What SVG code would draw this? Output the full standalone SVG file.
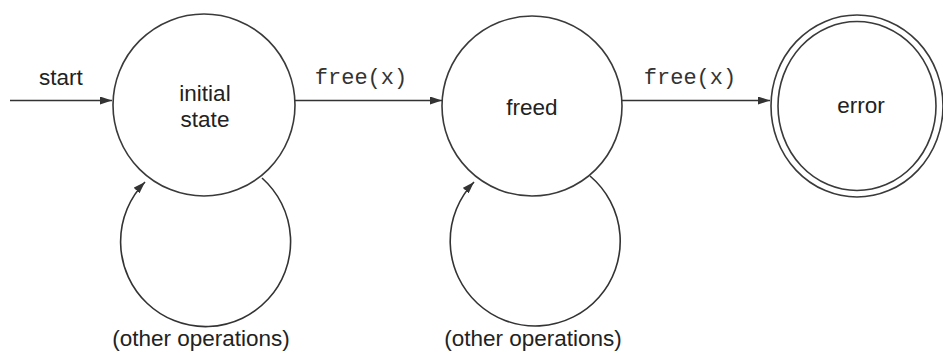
<svg xmlns="http://www.w3.org/2000/svg" width="943" height="356" viewBox="0 0 943 356">
  <style>
    .state { fill: #fff; stroke: #3a3a3a; stroke-width: 1.6; }
    .edge { fill: none; stroke: #333; stroke-width: 1.6; }
    .lbl { font-family: "Liberation Sans", Arial, sans-serif; font-size: 22.5px; fill: #222; text-anchor: middle; }
    .code { font-family: "Liberation Mono", "Courier New", monospace; font-size: 22px; fill: #333; text-anchor: middle; }
  </style>
  <defs>
    <marker id="arrow" viewBox="0 0 12 8" refX="12" refY="4" markerWidth="12" markerHeight="8" markerUnits="userSpaceOnUse" orient="auto">
      <path d="M0,0 L12,4 L0,8 Z" fill="#333"/>
    </marker>
  </defs>

  <rect width="943" height="356" fill="#fff"/>

  <!-- state nodes -->
  <g id="initial">
    <circle class="state" cx="204" cy="105" r="91"/>
    <text class="lbl" x="205" y="101">initial</text>
    <text class="lbl" x="205" y="127">state</text>
  </g>
  <g id="freed">
    <circle class="state" cx="532" cy="106" r="90"/>
    <text class="lbl" x="532" y="115">freed</text>
  </g>
  <g id="error">
    <ellipse class="state" cx="857" cy="106" rx="86" ry="91"/>
    <ellipse class="state" cx="857" cy="106" rx="79" ry="84.5"/>
    <text class="lbl" x="861" y="113">error</text>
  </g>

  <!-- transitions -->
  <g id="edges">
    <line class="edge" x1="10" y1="100.5" x2="112" y2="100.5" marker-end="url(#arrow)"/>
    <text class="lbl" x="61" y="85">start</text>

    <line class="edge" x1="295" y1="100.5" x2="442" y2="100.5" marker-end="url(#arrow)"/>
    <text class="code" x="361" y="84">free(x)</text>

    <line class="edge" x1="622" y1="100.5" x2="770" y2="100.5" marker-end="url(#arrow)"/>
    <text class="code" x="690" y="84">free(x)</text>

    <!-- self loops -->
    <path class="edge" d="M262,178 A85,85 0 1 1 145,182" marker-end="url(#arrow)"/>
    <text class="lbl" x="201" y="346">(other operations)</text>

    <path class="edge" d="M590,176 A85,85 0 1 1 474,182" marker-end="url(#arrow)"/>
    <text class="lbl" x="533" y="346">(other operations)</text>
  </g>
</svg>
